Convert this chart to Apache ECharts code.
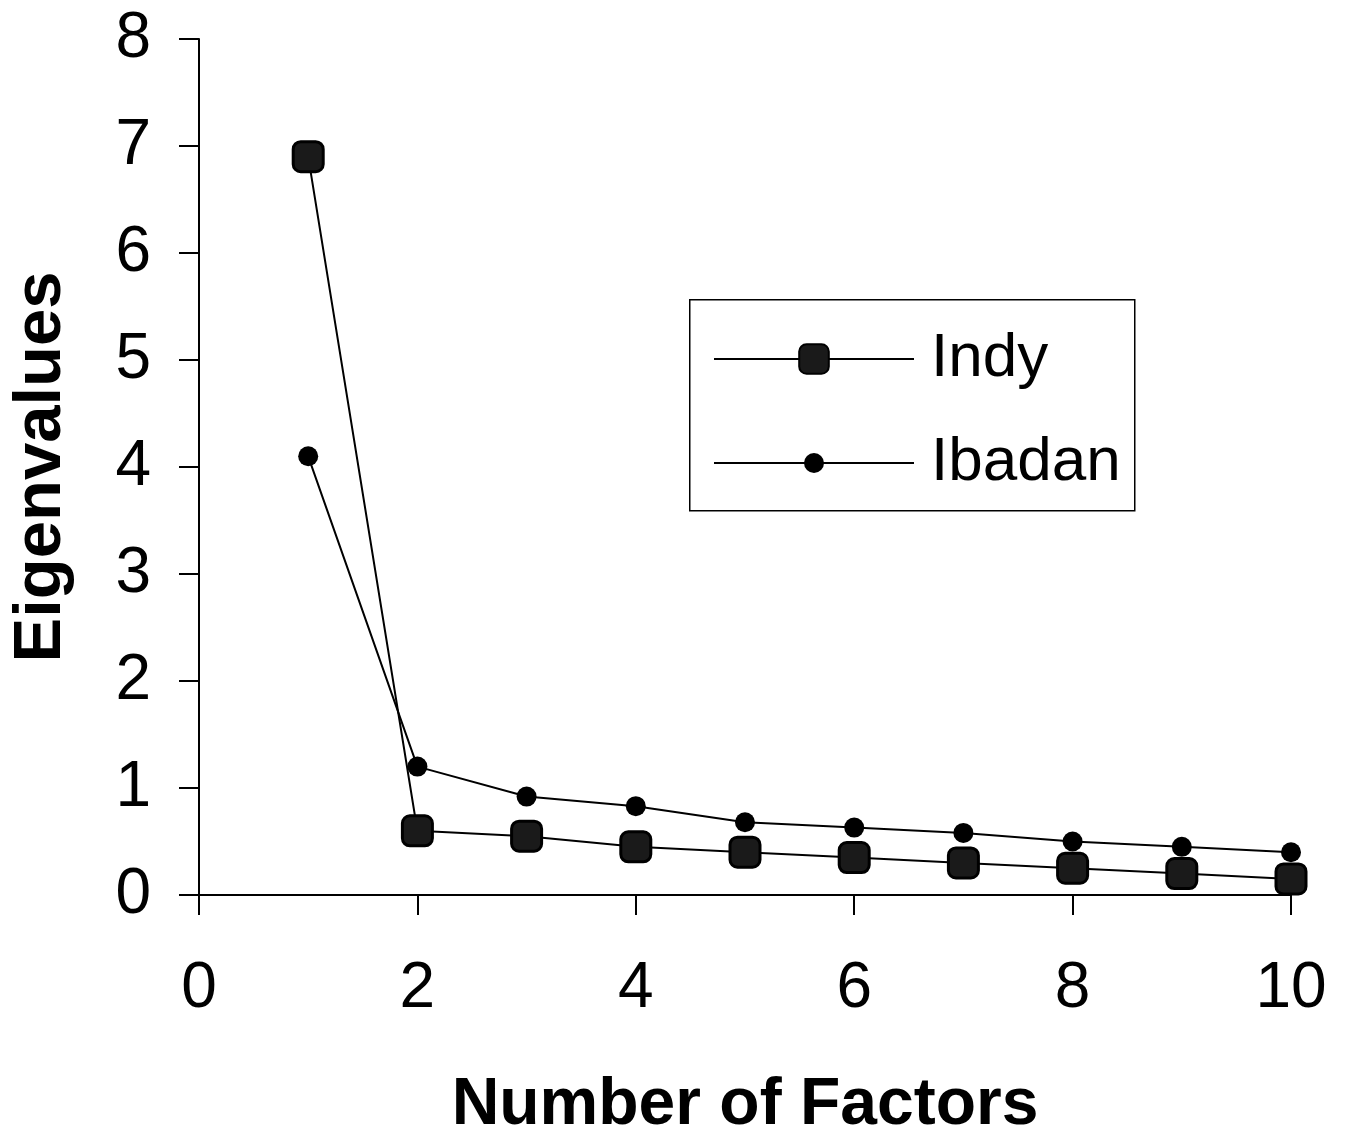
<!DOCTYPE html>
<html>
<head>
<meta charset="utf-8">
<script src="https://cdn.jsdelivr.net/npm/echarts@6/dist/echarts.min.js"></script>
<style>
html,body{margin:0;padding:0;background:#fff;}
#c{width:1350px;height:1134px;}
</style>
</head>
<body>
<div id="c"></div>
<script>
const factors = [1,2,3,4,5,6,7,8,9,10];
const indy = [6.9,0.6,0.55,0.45,0.4,0.35,0.3,0.25,0.2,0.15];
const ibadan = [4.1,1.2,0.92,0.83,0.68,0.63,0.58,0.5,0.45,0.4];
const xTicks = [0,2,4,6,8,10];
const yTicks = [0,1,2,3,4,5,6,7,8];

const chart = echarts.init(document.getElementById('c'));
const font = 'Liberation Sans, Arial, Helvetica, sans-serif';
const legendText = {fontSize:62, fontFamily:font, color:'#000', lineHeight:60, padding:[0,0,0,12]};
chart.setOption({
  animation:false,
  backgroundColor:'#fff',
  textStyle:{fontFamily:font},
  grid:{left:199,right:59,top:39,bottom:239,containLabel:false,outerBoundsMode:'none'},
  graphic:[{
    type:'rect', left:689, top:299, z:0,
    shape:{width:445, height:211},
    style:{fill:'#fff', stroke:'#000', lineWidth:1.5}
  }],
  legend:[
    {
      orient:'vertical', left:713, top:328, padding:0,
      itemWidth:200, itemHeight:37,
      textStyle:legendText, data:['Indy'], z:5
    },
    {
      orient:'vertical', left:713, top:432, padding:0,
      itemWidth:200, itemHeight:25,
      textStyle:legendText, data:['Ibadan'], z:5
    }
  ],
  xAxis:{
    type:'value', min:0, max:10, interval:2,
    name:'Number of Factors', nameLocation:'middle', nameGap:178,
    nameTextStyle:{fontSize:66, fontWeight:'bold', color:'#000', fontFamily:font},
    axisLine:{show:true, onZero:false, lineStyle:{color:'#000', width:2}},
    axisTick:{show:true, inside:false, length:20, lineStyle:{color:'#000', width:2}},
    axisLabel:{fontSize:64, color:'#000', margin:62, fontFamily:font},
    splitLine:{show:false}
  },
  yAxis:{
    type:'value', min:0, max:8, interval:1,
    name:'Eigenvalues', nameLocation:'middle', nameGap:124,
    nameTextStyle:{fontSize:67, fontWeight:'bold', color:'#000', fontFamily:font},
    axisLine:{show:true, lineStyle:{color:'#000', width:2}},
    axisTick:{show:true, inside:false, length:20, lineStyle:{color:'#000', width:2}},
    axisLabel:{fontSize:64, color:'#000', margin:48, fontFamily:font},
    splitLine:{show:false}
  },
  series:[
    {
      name:'Indy', type:'line', data:factors.map((f,i)=>[f,indy[i]]),
      symbol:'roundRect', symbolSize:30,
      lineStyle:{color:'#000', width:2},
      itemStyle:{color:'#1a1a1a', borderColor:'#000', borderWidth:3},
      z:3
    },
    {
      name:'Ibadan', type:'line', data:factors.map((f,i)=>[f,ibadan[i]]),
      symbol:'circle', symbolSize:20,
      lineStyle:{color:'#000', width:2},
      itemStyle:{color:'#000', borderColor:'#000', borderWidth:0},
      z:2
    }
  ]
});
</script>
</body>
</html>
